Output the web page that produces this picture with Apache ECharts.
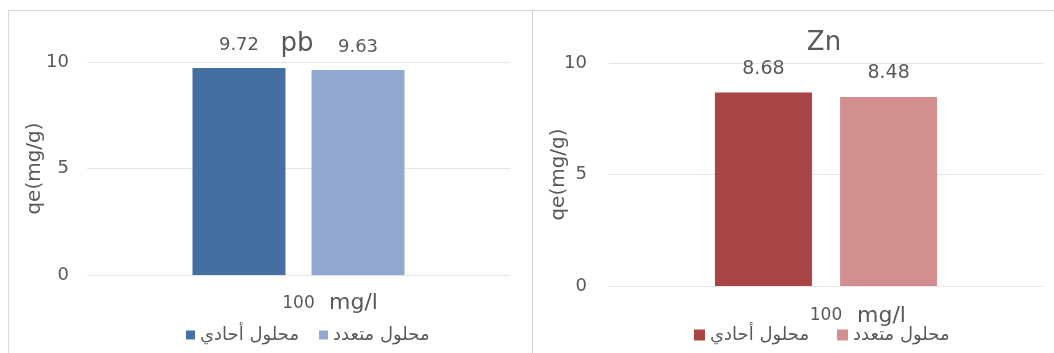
<!DOCTYPE html>
<html>
<head>
<meta charset="utf-8">
<script src="https://cdn.jsdelivr.net/npm/echarts@6/dist/echarts.min.js"></script>
<style>
  html, body { margin: 0; padding: 0; background: #fff; width: 1054px; height: 353px; overflow: hidden; }
  .panel { position: absolute; top: 10px; height: 343px; box-sizing: border-box; border-top: 1px solid #d9d9d9; }
  #pb { left: 8px; width: 525px; border-left: 1px solid #d9d9d9; border-right: 1px solid #d0d0d0; }
  #zn { left: 533px; width: 521px; }
</style>
</head>
<body>
<div id="pb" class="panel"></div>
<div id="zn" class="panel"></div>
<script>
// Concentration category and the two solution types
const categories = ['100'];
const seriesNames = ['محلول أحادي', 'محلول متعدد'];

// Adsorption capacity qe (mg/g)
const pbSingle = [9.72];
const pbMulti = [9.63];
const znSingle = [8.68];
const znMulti = [8.48];

const yTicks = { min: 0, max: 10, interval: 5 };

const GRAY = '#595959';
const FONT = '"DejaVu Sans", sans-serif';

function buildOption(cfg) {
  return {
    animation: false,
    grid: {
      left: cfg.grid.left, top: cfg.grid.top, width: cfg.grid.width, height: cfg.grid.height,
      outerBoundsMode: 'none', containLabel: false
    },
    legend: {
      data: seriesNames,
      left: cfg.legendX, top: cfg.legendY,
      itemWidth: cfg.iconSize, itemHeight: cfg.iconSize, itemGap: cfg.legendGap,
      icon: 'rect',
      textStyle: { color: GRAY, fontSize: cfg.legendSize, fontFamily: FONT }
    },
    xAxis: {
      type: 'category',
      data: categories,
      axisLine: { show: false },
      axisTick: { show: false },
      axisLabel: { color: GRAY, fontSize: 17, margin: cfg.xMargin, fontFamily: FONT }
    },
    yAxis: {
      type: 'value',
      min: yTicks.min, max: yTicks.max, interval: yTicks.interval,
      name: 'qe(mg/g)',
      nameLocation: 'middle',
      nameGap: cfg.nameGap,
      nameMoveOverlap: false,
      nameTextStyle: { color: GRAY, fontSize: 20, fontFamily: FONT },
      axisLabel: { color: GRAY, fontSize: 18, margin: cfg.tickMargin, fontFamily: FONT },
      splitLine: { lineStyle: { color: '#e4e4e4', width: 1 } }
    },
    graphic: [
      {
        type: 'text', x: cfg.titleX, y: cfg.titleY,
        style: { text: cfg.title, fill: GRAY, font: cfg.titleSize + 'px ' + FONT, align: 'center', verticalAlign: 'middle' }
      },
      {
        type: 'text', x: cfg.unitX, y: cfg.unitY,
        style: { text: 'mg/l', fill: GRAY, font: '22px ' + FONT, align: 'left', verticalAlign: 'middle' }
      }
    ],
    series: [
      {
        name: seriesNames[0], type: 'bar', data: cfg.single,
        barWidth: cfg.barWidth, barGap: cfg.barGap,
        itemStyle: { color: cfg.colors[0] },
        label: { show: true, position: 'top', distance: 14, color: GRAY, fontSize: cfg.labelSize, fontFamily: FONT }
      },
      {
        name: seriesNames[1], type: 'bar', data: cfg.multi,
        barWidth: cfg.barWidth,
        itemStyle: { color: cfg.colors[1] },
        label: { show: true, position: 'top', distance: 14, color: GRAY, fontSize: cfg.labelSize, fontFamily: FONT }
      }
    ]
  };
}

const pbChart = echarts.init(document.getElementById('pb'), null, { renderer: 'canvas' });
pbChart.setOption(buildOption({
  title: 'pb', titleX: 288, titleY: 33, titleSize: 26,
  grid: { left: 78, top: 51, width: 423, height: 213 },
  legendX: 172, legendY: 310, iconSize: 9, legendGap: 20, legendSize: 18,
  nameGap: 42, tickMargin: 18, xMargin: 20,
  unitX: 320, unitY: 292,
  barWidth: 93, barGap: '28%', labelSize: 18,
  colors: ['#456fa1', '#91a9d1'],
  single: pbSingle, multi: pbMulti
}));

const znChart = echarts.init(document.getElementById('zn'), null, { renderer: 'canvas' });
znChart.setOption(buildOption({
  title: 'Zn', titleX: 291, titleY: 32, titleSize: 26,
  grid: { left: 76, top: 52, width: 434, height: 223 },
  legendX: 156, legendY: 310, iconSize: 11, legendGap: 28, legendSize: 18,
  nameGap: 40, tickMargin: 22, xMargin: 21,
  unitX: 324, unitY: 305,
  barWidth: 97, barGap: '29%', labelSize: 19,
  colors: ['#a84444', '#d38f8f'],
  single: znSingle, multi: znMulti
}));
</script>
</body>
</html>
